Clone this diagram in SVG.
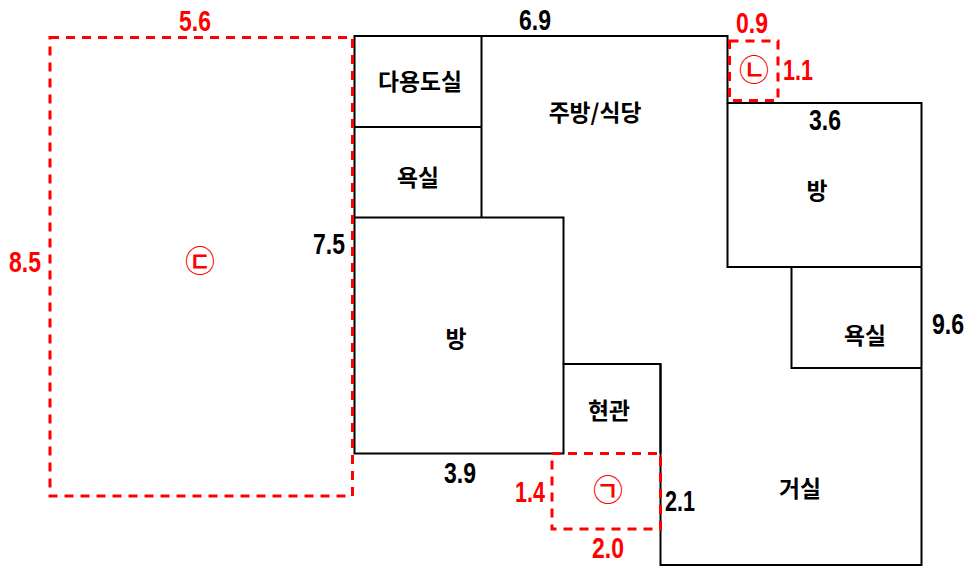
<svg xmlns="http://www.w3.org/2000/svg" width="967" height="566" viewBox="0 0 967 566">
<style>
.wall{fill:none;stroke:#000;stroke-width:2;stroke-linejoin:miter}
.dash{fill:none;stroke:#f00;stroke-width:3;stroke-dasharray:9 7}
.room{font-family:"Noto Sans CJK KR","Noto Sans",sans-serif;font-weight:700;font-size:22.800px;fill:#000;text-anchor:middle}
.dim{font-family:"Liberation Sans",sans-serif;font-weight:700;font-size:30px;text-anchor:middle}
.k{fill:#000}.r{fill:#f00}
.mark{font-family:"Noto Sans CJK KR",sans-serif;font-weight:500;font-size:30px;fill:#f00;text-anchor:middle}
</style>
<rect width="967" height="566" fill="#fff"/>
<g id="walls">
<path class="wall" d="M354.5 36H727.5V103H921.5V565H660.5V364H563.5V453.5H354.5Z"/>
<path class="wall" d="M354.5 127H481.5M481.5 36V217.5M354.5 217.5H563.5V364M727.5 103V267H921.5M791.5 267V368H921.5M660.5 364V453.5"/>
</g>
<g id="zone-c"><rect class="dash" x="50" y="37.5" width="302.500" height="458.500"/><text class="mark" x="200" y="272">㉢</text></g>
<g id="zone-b"><rect class="dash" x="729.500" y="41" width="48.500" height="59.500"/><text class="mark" x="754" y="81">㉡</text></g>
<g id="zone-a"><rect class="dash" x="552" y="453.500" width="108.500" height="75.500"/><text class="mark" x="608" y="501">㉠</text></g>
<g id="room-utility"><text class="room" x="420" y="90">다용도실</text></g>
<g id="room-bath1"><text class="room" x="418" y="186">욕실</text></g>
<g id="room-kitchen"><text class="room" x="595" y="121">주방/식당</text></g>
<g id="room-bed1"><text class="room" x="817" y="199">방</text></g>
<g id="room-bath2"><text class="room" x="865" y="344">욕실</text></g>
<g id="room-bed2"><text class="room" x="456" y="347">방</text></g>
<g id="room-entry"><text class="room" x="609" y="419">현관</text></g>
<g id="room-living"><text class="room" x="800" y="497">거실</text></g>
<g id="dims">
<text class="dim r" x="195" y="31" textLength="32" lengthAdjust="spacingAndGlyphs">5.6</text>
<text class="dim r" x="25" y="272" textLength="32" lengthAdjust="spacingAndGlyphs">8.5</text>
<text class="dim k" x="535" y="30" textLength="32" lengthAdjust="spacingAndGlyphs">6.9</text>
<text class="dim k" x="329" y="254" textLength="32" lengthAdjust="spacingAndGlyphs">7.5</text>
<text class="dim r" x="752" y="33" textLength="32" lengthAdjust="spacingAndGlyphs">0.9</text>
<text class="dim r" x="798" y="80" textLength="30" lengthAdjust="spacingAndGlyphs">1.1</text>
<text class="dim k" x="825" y="130" textLength="32" lengthAdjust="spacingAndGlyphs">3.6</text>
<text class="dim k" transform="translate(948 334) scale(.77 1)">9.6</text>
<text class="dim k" x="460" y="483" textLength="32" lengthAdjust="spacingAndGlyphs">3.9</text>
<text class="dim r" x="530" y="502" textLength="30" lengthAdjust="spacingAndGlyphs">1.4</text>
<text class="dim k" x="680" y="511" textLength="30" lengthAdjust="spacingAndGlyphs">2.1</text>
<text class="dim r" x="608" y="558" textLength="32" lengthAdjust="spacingAndGlyphs">2.0</text>
</g>
</svg>
